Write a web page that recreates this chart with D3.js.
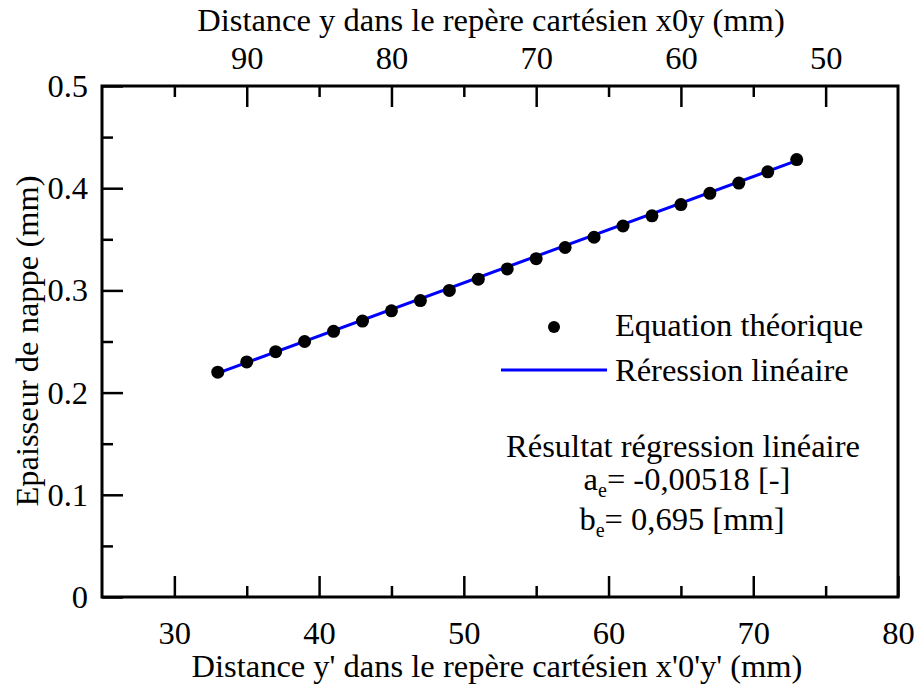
<!DOCTYPE html>
<html>
<head>
<meta charset="utf-8">
<script src="https://cdn.jsdelivr.net/npm/d3@7"></script>
<style>
html,body{margin:0;padding:0;background:#fff;}
svg text{font-family:"Liberation Serif","Times New Roman",serif;fill:#000;}
</style>
</head>
<body>
<svg id="chart" width="916" height="686"></svg>
<script>
// ---- data ----
const yPrime = [33,35,37,39,41,43,45,47,49,51,53,55,57,59,61,63,65,67,69,71,73];
const thickness = [0.220,0.230,0.240,0.250,0.260,0.270,0.280,0.290,0.300,0.311,0.321,0.331,0.342,0.352,0.363,0.373,0.384,0.395,0.405,0.416,0.428];
const regX = [33,73];
const regY = [0.219,0.427];
const bottomTicks = [30,40,50,60,70,80];
const bottomMinor = [35,45,55,65,75];
const topTicks = [90,80,70,60,50];
const topMinor = [95,85,75,65,55];
const leftTicks = [0,0.1,0.2,0.3,0.4,0.5];
const leftMinor = [0.05,0.15,0.25,0.35,0.45];
const legendLabels = ["Equation théorique","Réression linéaire"];
const resultTitle = "Résultat régression linéaire";
const coefA = "-0,00518 [-]";
const coefB = "0,695 [mm]";
const titleTop = "Distance y dans le repère cartésien x0y (mm)";
const titleBottom = "Distance y' dans le repère cartésien x'0'y' (mm)";
const titleLeft = "Epaisseur de nappe (mm)";

const svg = d3.select("#chart");
const L=102,R=898,T=86,B=597;
const x = d3.scaleLinear().domain([25,80]).range([L,R]);
const xTop = d3.scaleLinear().domain([100,45]).range([L,R]);
const y = d3.scaleLinear().domain([0,0.5]).range([B,T]);
const FS = 32.5;

function tickStyle(g){g.selectAll("line").attr("stroke","#000").attr("stroke-width",2.5);g.select(".domain").remove();}
function labelStyle(g){g.selectAll("text").attr("font-size",FS).attr("font-family","Liberation Serif");}

const gB = svg.append("g").attr("transform",`translate(0,${B})`)
  .call(d3.axisBottom(x).tickValues(bottomTicks).tickSize(-21).tickFormat(d=>d).tickPadding(24));
tickStyle(gB); labelStyle(gB);
const gBm = svg.append("g").attr("transform",`translate(0,${B})`)
  .call(d3.axisBottom(x).tickValues(bottomMinor).tickSize(-11).tickFormat(""));
tickStyle(gBm);

const gT = svg.append("g").attr("transform",`translate(0,${T})`)
  .call(d3.axisTop(xTop).tickValues(topTicks).tickSize(-21).tickFormat(d=>d).tickPadding(17));
tickStyle(gT); labelStyle(gT);
const gTm = svg.append("g").attr("transform",`translate(0,${T})`)
  .call(d3.axisTop(xTop).tickValues(topMinor).tickSize(-11).tickFormat(""));
tickStyle(gTm);

const gL = svg.append("g").attr("transform",`translate(${L},0)`)
  .call(d3.axisLeft(y).tickValues(leftTicks).tickSize(-21).tickFormat(d=>d===0?"0":d3.format(".1f")(d)).tickPadding(14));
tickStyle(gL); labelStyle(gL);
const gLm = svg.append("g").attr("transform",`translate(${L},0)`)
  .call(d3.axisLeft(y).tickValues(leftMinor).tickSize(-11).tickFormat(""));
tickStyle(gLm);

// frame
svg.append("rect").attr("x",L).attr("y",T).attr("width",R-L).attr("height",B-T)
  .attr("fill","none").attr("stroke","#000").attr("stroke-width",3);

// regression line
svg.append("path").datum(regX.map((d,i)=>[d,regY[i]]))
  .attr("d",d3.line().x(d=>x(d[0])).y(d=>y(d[1])))
  .attr("stroke","#0000ff").attr("stroke-width",3).attr("fill","none");

// points
svg.append("g").selectAll("circle").data(yPrime).join("circle")
  .attr("cx",d=>x(d)).attr("cy",(d,i)=>y(thickness[i])).attr("r",6.5).attr("fill","#000");

// legend
svg.append("circle").attr("cx",554).attr("cy",327).attr("r",6).attr("fill","#000");
svg.append("line").attr("x1",501).attr("x2",607).attr("y1",370).attr("y2",370)
  .attr("stroke","#0000ff").attr("stroke-width",3);
svg.append("text").attr("x",615).attr("y",336).attr("font-size",FS).text(legendLabels[0]);
svg.append("text").attr("x",615).attr("y",381).attr("font-size",FS).text(legendLabels[1]);

// result text
svg.append("text").attr("x",683).attr("y",457).attr("text-anchor","middle").attr("font-size",FS).text(resultTitle);
const ta = svg.append("text").attr("x",687).attr("y",490).attr("text-anchor","middle").attr("font-size",FS);
ta.append("tspan").text("a");
ta.append("tspan").attr("font-size",20).attr("dy",7).text("e");
ta.append("tspan").attr("dy",-7).text("= " + coefA);
const tb = svg.append("text").attr("x",682).attr("y",530).attr("text-anchor","middle").attr("font-size",FS);
tb.append("tspan").text("b");
tb.append("tspan").attr("font-size",20).attr("dy",7).text("e");
tb.append("tspan").attr("dy",-7).text("= " + coefB);

// axis titles
svg.append("text").attr("x",491).attr("y",31).attr("text-anchor","middle").attr("font-size",FS).text(titleTop);
svg.append("text").attr("x",497).attr("y",677).attr("text-anchor","middle").attr("font-size",FS).text(titleBottom);
svg.append("text").attr("transform",`translate(38,341) rotate(-90)`).attr("text-anchor","middle").attr("font-size",FS).text(titleLeft);
</script>
</body>
</html>
